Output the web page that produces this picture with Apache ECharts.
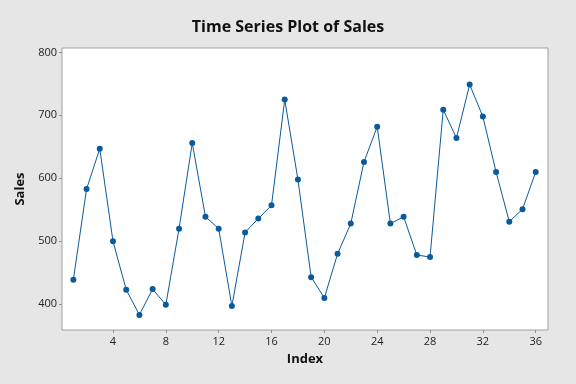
<!DOCTYPE html>
<html><head><meta charset="utf-8">
<script src="https://cdn.jsdelivr.net/npm/echarts@6/dist/echarts.min.js"></script>
<style>html,body{margin:0;padding:0;background:#e6e6e6;}#c{width:576px;height:384px;}</style>
</head><body><div id="c"></div>
<script>
const indexValues = [1,2,3,4,5,6,7,8,9,10,11,12,13,14,15,16,17,18,19,20,21,22,23,24,25,26,27,28,29,30,31,32,33,34,35,36];
const sales = [439,583,647,500,423,383,424,399,520,656,539,520,397,514,536,557,725,598,443,410,480,528,626,682,528,539,478,475,709,664,749,698,610,531,551,610];
const xTicks = [4,8,12,16,20,24,28,32,36];
const yTicks = [400,500,600,700,800];

const chart = echarts.init(document.getElementById('c'));
const font = '"Open Sans", "Noto Sans", sans-serif';
chart.setOption({
  backgroundColor: '#e6e6e6',
  animation: false,
  title: {
    text: 'Time Series Plot of Sales',
    left: 'center', top: 14,
    textStyle: { fontFamily: font, fontSize: 16, fontWeight: 'bold', color: '#111' }
  },
  grid: { left: 62, right: 28, top: 48, bottom: 54, show: true, backgroundColor: '#fff', borderColor: '#a0a0a0', borderWidth: 1 },
  xAxis: {
    type: 'value', min: 0.14, max: 36.93,
    name: 'Index', nameLocation: 'middle', nameGap: 23,
    nameTextStyle: { fontFamily: font, fontSize: 13, fontWeight: 'bold', color: '#111' },
    axisLine: { show: false },
    axisTick: { show: true, length: 3, customValues: xTicks, lineStyle: { color: '#909090' } },
    axisLabel: { customValues: xTicks, fontFamily: font, fontSize: 11, color: '#222', margin: 6 },
    splitLine: { show: false }
  },
  yAxis: {
    type: 'value', min: 359, max: 807,
    name: 'Sales', nameLocation: 'middle', nameGap: 34,
    nameTextStyle: { fontFamily: font, fontSize: 13, fontWeight: 'bold', color: '#111' },
    axisLine: { show: false },
    axisTick: { show: true, length: 3, customValues: yTicks, lineStyle: { color: '#909090' } },
    axisLabel: { customValues: yTicks, fontFamily: font, fontSize: 11, color: '#222', margin: 5 },
    splitLine: { show: false }
  },
  series: [{
    type: 'line',
    data: indexValues.map((x, i) => [x, sales[i]]),
    symbol: 'circle', symbolSize: 6,
    lineStyle: { color: '#0a5a9c', width: 1 },
    itemStyle: { color: '#0a5a9c' }
  }]
});
</script></body></html>
